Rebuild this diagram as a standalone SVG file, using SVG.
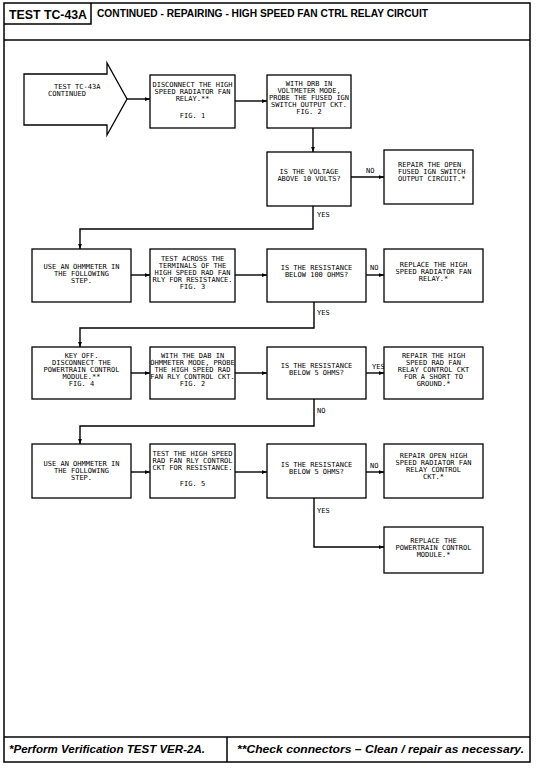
<svg xmlns="http://www.w3.org/2000/svg" width="536" height="768" viewBox="0 0 536 768">
<defs>
<style>
.frame{fill:none;stroke:#000;stroke-width:1.5}
.box{fill:#fff;stroke:#000;stroke-width:1.3}
.con{fill:none;stroke:#000;stroke-width:1.4}
.t{font-family:"DejaVu Sans Mono","Liberation Mono",monospace;font-size:7px;fill:#000;text-anchor:middle}
.tl{font-family:"DejaVu Sans Mono","Liberation Mono",monospace;font-size:7px;fill:#000;text-anchor:start}
.lab{font-family:"DejaVu Sans Mono","Liberation Mono",monospace;font-size:7px;fill:#000}
.hd{font-family:"Liberation Sans",Arial,sans-serif;font-weight:bold;fill:#000}
.ft{font-family:"Liberation Sans",Arial,sans-serif;font-weight:bold;font-style:italic;font-size:11px;fill:#000}
</style>
<marker id="ah" viewBox="0 0 8 6" refX="8" refY="3" markerWidth="5" markerHeight="4" markerUnits="userSpaceOnUse" orient="auto">
<path d="M0,0 L8,3 L0,6 Z" fill="#000"/>
</marker>
</defs>
<rect width="536" height="768" fill="#fff"/>
<g id="page">
<rect class="frame" x="4" y="3" width="526" height="759"/>
<line class="frame" x1="4" y1="40" x2="530" y2="40"/>
<polyline class="frame" points="91,3 91,24 4,24" stroke-width="1"/>
<line class="frame" x1="4" y1="737" x2="530" y2="737"/>
<line class="frame" x1="227" y1="737" x2="227" y2="762"/>
<text class="hd" x="9" y="19" font-size="12.5" textLength="78" lengthAdjust="spacingAndGlyphs">TEST TC-43A</text>
<text class="hd" x="97" y="17" font-size="10.5" textLength="331" lengthAdjust="spacingAndGlyphs">CONTINUED - REPAIRING - HIGH SPEED FAN CTRL RELAY CIRCUIT</text>
<text class="ft" x="9" y="753" textLength="196" lengthAdjust="spacingAndGlyphs">*Perform Verification TEST VER-2A.</text>
<text class="ft" x="237" y="753" textLength="287" lengthAdjust="spacingAndGlyphs">**Check connectors – Clean / repair as necessary.</text>
</g>
<g id="connectors">
<path class="con" d="M127,99 H150" marker-end="url(#ah)"/>
<path class="con" d="M235,101 H267" marker-end="url(#ah)"/>
<path class="con" d="M313,128 V152" marker-end="url(#ah)"/>
<path class="con" d="M351,177 H384" marker-end="url(#ah)"/>
<path class="con" d="M313,206 V229 H80 V249" marker-end="url(#ah)"/>
<path class="con" d="M131,275 H150" marker-end="url(#ah)"/>
<path class="con" d="M235,275 H267" marker-end="url(#ah)"/>
<path class="con" d="M366,275 H384" marker-end="url(#ah)"/>
<path class="con" d="M314,302 V328 H80 V347" marker-end="url(#ah)"/>
<path class="con" d="M131,373 H150" marker-end="url(#ah)"/>
<path class="con" d="M235,373 H267" marker-end="url(#ah)"/>
<path class="con" d="M366,373 H384" marker-end="url(#ah)"/>
<path class="con" d="M314,399 V426 H80 V444" marker-end="url(#ah)"/>
<path class="con" d="M131,472 H150" marker-end="url(#ah)"/>
<path class="con" d="M235,472 H267" marker-end="url(#ah)"/>
<path class="con" d="M366,472 H384" marker-end="url(#ah)"/>
<path class="con" d="M314,498 V547 H384" marker-end="url(#ah)"/>
<text class="lab" x="366" y="173">NO</text>
<text class="lab" x="317" y="217">YES</text>
<text class="lab" x="370" y="270">NO</text>
<text class="lab" x="317" y="315">YES</text>
<text class="lab" x="372" y="369">YES</text>
<text class="lab" x="317" y="413">NO</text>
<text class="lab" x="370" y="468">NO</text>
<text class="lab" x="317" y="513">YES</text>
</g>
<g id="n-start">
<path class="box" d="M24,74 H107 V63 L127,99 L107,135 V125 H24 Z"/>
<text class="tl" x="54" y="89">TEST TC-43A</text>
<text class="tl" x="48" y="96">CONTINUED</text>
</g>
<g id="n-disconnect-relay">
<rect class="box" x="150" y="75" width="85" height="53"/>
<text class="t" x="192.5" y="87">DISCONNECT THE HIGH</text>
<text class="t" x="192.5" y="94">SPEED RADIATOR FAN</text>
<text class="t" x="192.5" y="101">RELAY.**</text>
<text class="t" x="192.5" y="118">FIG. 1</text>
</g>
<g id="n-probe-ign">
<rect class="box" x="267" y="75" width="84" height="53"/>
<text class="t" x="309" y="86">WITH DRB IN</text>
<text class="t" x="309" y="93">VOLTMETER MODE,</text>
<text class="t" x="309" y="100">PROBE THE FUSED IGN</text>
<text class="t" x="309" y="107">SWITCH OUTPUT CKT.</text>
<text class="t" x="309" y="114">FIG. 2</text>
</g>
<g id="n-voltage">
<rect class="box" x="267" y="152" width="84" height="54"/>
<text class="t" x="309" y="174">IS THE VOLTAGE</text>
<text class="t" x="309" y="181">ABOVE 10 VOLTS?</text>
</g>
<g id="n-repair-open">
<rect class="box" x="384" y="150" width="89" height="54"/>
<text class="tl" x="398" y="167">REPAIR THE OPEN</text>
<text class="tl" x="398" y="174">FUSED IGN SWITCH</text>
<text class="tl" x="398" y="181">OUTPUT CIRCUIT.*</text>
</g>
<g id="n-ohm1">
<rect class="box" x="32" y="249" width="99" height="53"/>
<text class="t" x="81.5" y="269">USE AN OHMMETER IN</text>
<text class="t" x="81.5" y="276">THE FOLLOWING</text>
<text class="t" x="81.5" y="283">STEP.</text>
</g>
<g id="n-test-across">
<rect class="box" x="150" y="249" width="85" height="53"/>
<text class="t" x="192.5" y="261">TEST ACROSS THE</text>
<text class="t" x="192.5" y="268">TERMINALS OF THE</text>
<text class="t" x="192.5" y="275">HIGH SPEED RAD FAN</text>
<text class="t" x="192.5" y="282">RLY FOR RESISTANCE.</text>
<text class="t" x="192.5" y="289">FIG. 3</text>
</g>
<g id="n-res100">
<rect class="box" x="267" y="249" width="99" height="53"/>
<text class="t" x="316.5" y="270">IS THE RESISTANCE</text>
<text class="t" x="316.5" y="277">BELOW 100 OHMS?</text>
</g>
<g id="n-replace-relay">
<rect class="box" x="384" y="249" width="99" height="53"/>
<text class="t" x="433.5" y="267">REPLACE THE HIGH</text>
<text class="t" x="433.5" y="274">SPEED RADIATOR FAN</text>
<text class="t" x="433.5" y="281">RELAY.*</text>
</g>
<g id="n-key-off">
<rect class="box" x="32" y="347" width="99" height="52"/>
<text class="t" x="81.5" y="358">KEY OFF.</text>
<text class="t" x="81.5" y="365">DISCONNECT THE</text>
<text class="t" x="81.5" y="372">POWERTRAIN CONTROL</text>
<text class="t" x="81.5" y="379">MODULE.**</text>
<text class="t" x="81.5" y="386">FIG. 4</text>
</g>
<g id="n-probe-ctrl">
<rect class="box" x="150" y="347" width="85" height="52"/>
<text class="t" x="192.5" y="358">WITH THE DAB IN</text>
<text class="t" x="192.5" y="365">OHMMETER MODE, PROBE</text>
<text class="t" x="192.5" y="372">THE HIGH SPEED RAD</text>
<text class="t" x="192.5" y="379">FAN RLY CONTROL CKT.</text>
<text class="t" x="192.5" y="386">FIG. 2</text>
</g>
<g id="n-res5a">
<rect class="box" x="267" y="347" width="99" height="52"/>
<text class="t" x="316.5" y="368">IS THE RESISTANCE</text>
<text class="t" x="316.5" y="375">BELOW 5 OHMS?</text>
</g>
<g id="n-repair-short">
<rect class="box" x="384" y="347" width="99" height="52"/>
<text class="t" x="433.5" y="358">REPAIR THE HIGH</text>
<text class="t" x="433.5" y="365">SPEED RAD FAN</text>
<text class="t" x="433.5" y="372">RELAY CONTROL CKT</text>
<text class="t" x="433.5" y="379">FOR A SHORT TO</text>
<text class="t" x="433.5" y="386">GROUND.*</text>
</g>
<g id="n-ohm2">
<rect class="box" x="32" y="444" width="99" height="54"/>
<text class="t" x="81.5" y="466">USE AN OHMMETER IN</text>
<text class="t" x="81.5" y="473">THE FOLLOWING</text>
<text class="t" x="81.5" y="480">STEP.</text>
</g>
<g id="n-test-ctrl">
<rect class="box" x="150" y="444" width="85" height="54"/>
<text class="t" x="192.5" y="456">TEST THE HIGH SPEED</text>
<text class="t" x="192.5" y="463">RAD FAN RLY CONTROL</text>
<text class="t" x="192.5" y="470">CKT FOR RESISTANCE.</text>
<text class="t" x="192.5" y="486">FIG. 5</text>
</g>
<g id="n-res5b">
<rect class="box" x="267" y="444" width="99" height="54"/>
<text class="t" x="316.5" y="467">IS THE RESISTANCE</text>
<text class="t" x="316.5" y="474">BELOW 5 OHMS?</text>
</g>
<g id="n-repair-open-ctrl">
<rect class="box" x="384" y="444" width="99" height="54"/>
<text class="t" x="433.5" y="458">REPAIR OPEN HIGH</text>
<text class="t" x="433.5" y="465">SPEED RADIATOR FAN</text>
<text class="t" x="433.5" y="472">RELAY CONTROL</text>
<text class="t" x="433.5" y="479">CKT.*</text>
</g>
<g id="n-replace-pcm">
<rect class="box" x="384" y="527" width="99" height="46"/>
<text class="t" x="433.5" y="543">REPLACE THE</text>
<text class="t" x="433.5" y="550">POWERTRAIN CONTROL</text>
<text class="t" x="433.5" y="557">MODULE.*</text>
</g>
</svg>
